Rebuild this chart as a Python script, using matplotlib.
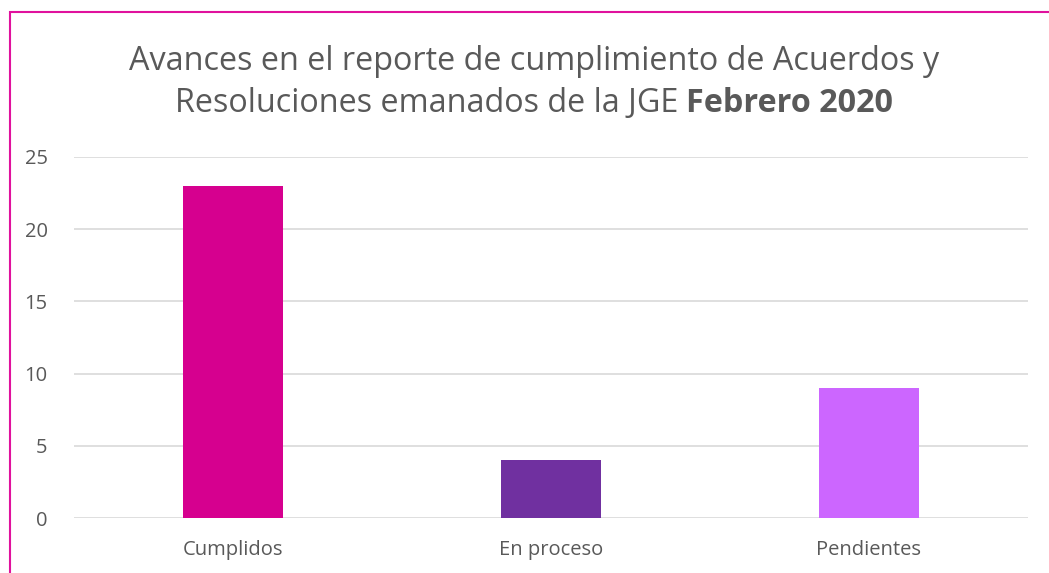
import matplotlib

matplotlib.use("Agg")
import matplotlib.pyplot as plt
from matplotlib.patches import Rectangle

CATEGORIES = ["Cumplidos", "En proceso", "Pendientes"]
VALUES = [23, 4, 9]
BAR_COLORS = ["#D6008F", "#7030A0", "#CC66FF"]
Y_TICKS = [0, 5, 10, 15, 20, 25]
TITLE_LINE1 = "Avances en el reporte de cumplimiento de Acuerdos y"
TITLE_LINE2 = "Resoluciones emanados de la JGE "
TITLE_BOLD = "Febrero 2020"

FONT = "Open Sans"
TEXT_COLOR = "#595959"
W, H = 1049, 573

fig = plt.figure(figsize=(W / 100, H / 100), dpi=100)
ax = fig.add_axes([74 / W, 1 - 518 / H, (1028 - 74) / W, (518 - 157) / H])

ax.bar(range(len(CATEGORIES)), VALUES, width=0.315, color=BAR_COLORS, zorder=3)
ax.set_xlim(-0.5, len(CATEGORIES) - 0.5)
ax.set_ylim(0, 25)
ax.set_yticks(Y_TICKS)
ax.set_xticks(range(len(CATEGORIES)), labels=CATEGORIES)
ax.yaxis.grid(True, color="#D9D9D9", linewidth=1.2, zorder=0)
for spine in ax.spines.values():
    spine.set_visible(False)
ax.tick_params(length=0, labelsize=14.5, labelcolor=TEXT_COLOR)
ax.tick_params(axis="x", pad=16)
ax.tick_params(axis="y", pad=19)
for label in ax.get_xticklabels() + ax.get_yticklabels():
    label.set_fontfamily(FONT)

# two-line title, second line partly bold
cx = 534 / W
fig.text(cx, 1 - 61 / H, TITLE_LINE1, ha="center", va="center",
         fontsize=23.3, color=TEXT_COLOR, family=FONT)
renderer = fig.canvas.get_renderer()
t1 = fig.text(0, 1 - 103 / H, TITLE_LINE2, ha="left", va="center",
              fontsize=23.3, color=TEXT_COLOR, family=FONT)
t2 = fig.text(0, 1 - 103 / H, TITLE_BOLD, ha="left", va="center",
              fontsize=23.3, color=TEXT_COLOR, family=FONT, fontweight="bold")
w1 = t1.get_window_extent(renderer).width / W
w2 = t2.get_window_extent(renderer).width / W
start = cx - (w1 + w2) / 2
t1.set_x(start)
t2.set_x(start + w1)

# border (only left and top visible in the reference)
fig.add_artist(Rectangle((9.5 / W, -0.1), 1.2, 1.1 - 12 / H, transform=fig.transFigure,
                         fill=False, edgecolor="#E0119D", linewidth=1.5))

fig.savefig("out.png", dpi=100)
